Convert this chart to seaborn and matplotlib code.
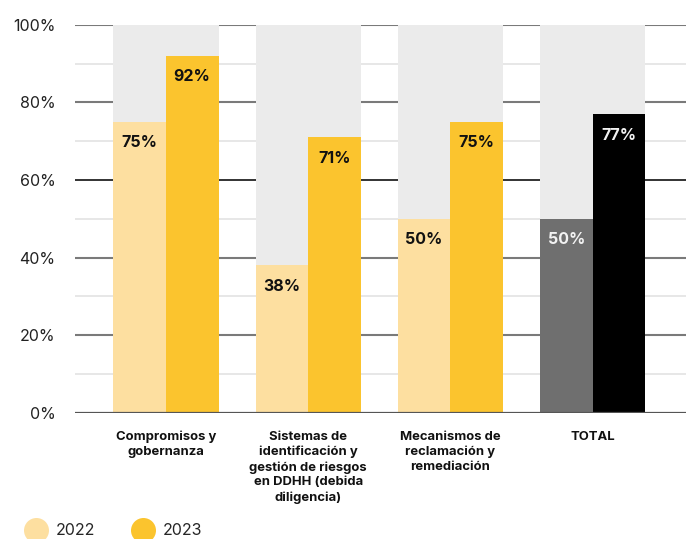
import matplotlib
matplotlib.use("Agg")
import matplotlib.pyplot as plt
from matplotlib.lines import Line2D
import pandas as pd
import seaborn as sns

categories = ["Compromisos y\ngobernanza",
              "Sistemas de\nidentificación y\ngestión de riesgos\nen DDHH (debida\ndiligencia)",
              "Mecanismos de\nreclamación y\nremediación",
              "TOTAL"]
years = ["2022", "2023"]
values_2022 = [75, 38, 50, 50]
values_2023 = [92, 71, 75, 77]

colors_year = {"2022": "#FDDFA0", "2023": "#FBC42E"}
colors_total = {"2022": "#6F6F6F", "2023": "#000000"}

df = pd.DataFrame({
    "cat": categories * 2,
    "year": [years[0]] * 4 + [years[1]] * 4,
    "value": values_2022 + values_2023,
})

sns.set_style("white")
plt.rcParams["font.family"] = ["Inter", "DejaVu Sans"]

fig = plt.figure(figsize=(6.86, 5.39), dpi=100)
ax = fig.add_axes([0.109, 0.234, 0.891, 0.72])

# gridlines behind the bars
for y in [10, 30, 50, 70, 90]:
    ax.axhline(y, color="#e3e3e3", lw=1.2, zorder=0)
for y in [20, 40, 80, 100]:
    ax.axhline(y, color="#7a7a7a", lw=1.5, zorder=0)
ax.axhline(60, color="#111111", lw=1.2, zorder=0)

# grey background (100%)
sns.barplot(x=categories, y=[100] * 4, color="#EBEBEB", width=0.74,
            saturation=1, ax=ax, zorder=1, linewidth=0)

sns.barplot(data=df, x="cat", y="value", hue="year", hue_order=years,
            palette=colors_year, width=0.74, saturation=1, ax=ax,
            legend=False, zorder=2, gap=0, linewidth=0)

for cont, yr in zip(ax.containers[1:], years):
    cont.patches[-1].set_facecolor(colors_total[yr])
    for i, p in enumerate(cont.patches):
        h = p.get_height()
        col = "#f2f2f2" if i == len(cont.patches) - 1 else "#111111"
        ax.annotate(f"{h:.0f}%", (p.get_x() + p.get_width() / 2, h),
                    xytext=(0, -21), textcoords="offset pixels",
                    ha="center", va="center", fontsize=11.5,
                    fontweight="bold", color=col, zorder=3)

ax.axhline(0, color="#555555", lw=1.6, zorder=4)

ax.set_ylim(0, 100)
ax.set_xlim(-0.64, 3.655)
ax.set_yticks([0, 20, 40, 60, 80, 100])
ax.set_yticklabels([f"{v}%" for v in [0, 20, 40, 60, 80, 100]])
ax.tick_params(axis="y", length=0, pad=14, labelsize=11.5, labelcolor="#222222")
ax.tick_params(axis="x", length=0, pad=13)
ax.set_xticks(range(4))
ax.set_xticklabels(categories, fontsize=9.4, fontweight="bold",
                   linespacing=1.3, va="top", color="#111111")
ax.set_xlabel("")
ax.set_ylabel("")
sns.despine(ax=ax, left=True, bottom=True, top=True, right=True)

handles = [Line2D([], [], marker="o", ls="", markersize=18,
                  markerfacecolor=colors_year[y], markeredgecolor="none")
           for y in years]
fig.legend(handles, years, loc="center left", bbox_to_anchor=(0.026, 0.015),
           ncol=2, frameon=False, fontsize=11.5, handletextpad=0.5,
           columnspacing=2.2, borderaxespad=0, handlelength=1.5)

fig.savefig("out.png", dpi=100)
